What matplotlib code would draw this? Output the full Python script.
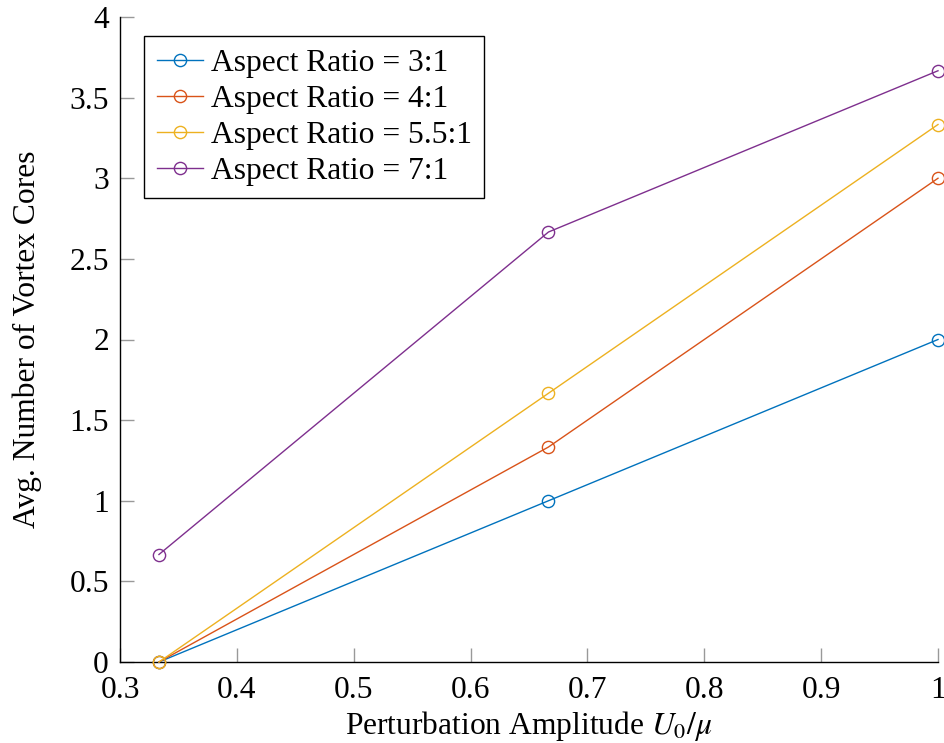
import matplotlib
matplotlib.use("Agg")
import matplotlib.pyplot as plt

plt.rcParams['font.family'] = ['Liberation Serif', 'DejaVu Serif']
plt.rcParams['mathtext.fontset'] = 'stix'

x_vals = [1/3, 2/3, 1.0]
series_labels = ['Aspect Ratio = 3:1', 'Aspect Ratio = 4:1',
                 'Aspect Ratio = 5.5:1', 'Aspect Ratio = 7:1']
y_3 = [0.0, 1.0, 2.0]
y_4 = [0.0, 4/3, 3.0]
y_55 = [0.0, 5/3, 10/3]
y_7 = [2/3, 8/3, 11/3]
colors = ['#0072BD', '#D95319', '#EDB120', '#7E2F8E']
x_ticks = [0.3, 0.4, 0.5, 0.6, 0.7, 0.8, 0.9, 1.0]
x_ticklabels = ['0.3', '0.4', '0.5', '0.6', '0.7', '0.8', '0.9', '1']
y_ticks = [0, 0.5, 1, 1.5, 2, 2.5, 3, 3.5, 4]
y_ticklabels = ['0', '0.5', '1', '1.5', '2', '2.5', '3', '3.5', '4']

FS = 22.7

fig = plt.figure(figsize=(9.45, 7.43), dpi=100)
ax = fig.add_axes([120/945, 81/743, 818/945, 645/743])

for ys, lab, c in zip([y_3, y_4, y_55, y_7], series_labels, colors):
    ax.plot(x_vals, ys, color=c, lw=1.0, marker='o', markersize=8.8,
            markerfacecolor='none', markeredgecolor=c, markeredgewidth=1.0,
            label=lab, clip_on=False, zorder=3)

ax.set_xlim(0.3, 1.0)
ax.set_ylim(0, 4)
ax.set_xticks(x_ticks)
ax.set_xticklabels(x_ticklabels)
ax.set_yticks(y_ticks)
ax.set_yticklabels(y_ticklabels)
ax.spines['top'].set_visible(False)
ax.spines['right'].set_visible(False)
ax.spines['left'].set_linewidth(1.0)
ax.spines['bottom'].set_linewidth(1.0)
ax.tick_params(axis='both', direction='in', length=10, width=1.0,
               color='#999999', labelsize=FS)
ax.tick_params(axis='x', pad=10)
ax.tick_params(axis='y', pad=8)
ax.set_xlabel(r'Perturbation Amplitude $U_0/\mu$', fontsize=FS, labelpad=3)
ax.set_ylabel('Avg. Number of Vortex Cores', fontsize=FS, labelpad=20)

leg = ax.legend(loc='upper left', bbox_to_anchor=(24/818, 1 - 19/645), fontsize=FS,
                frameon=True, fancybox=False, edgecolor='black',
                framealpha=1, handlelength=1.46, handletextpad=0.25,
                borderpad=0.4, labelspacing=0.22, borderaxespad=0)
leg.get_frame().set_linewidth(1.0)

fig.savefig('out.png', dpi=100)
